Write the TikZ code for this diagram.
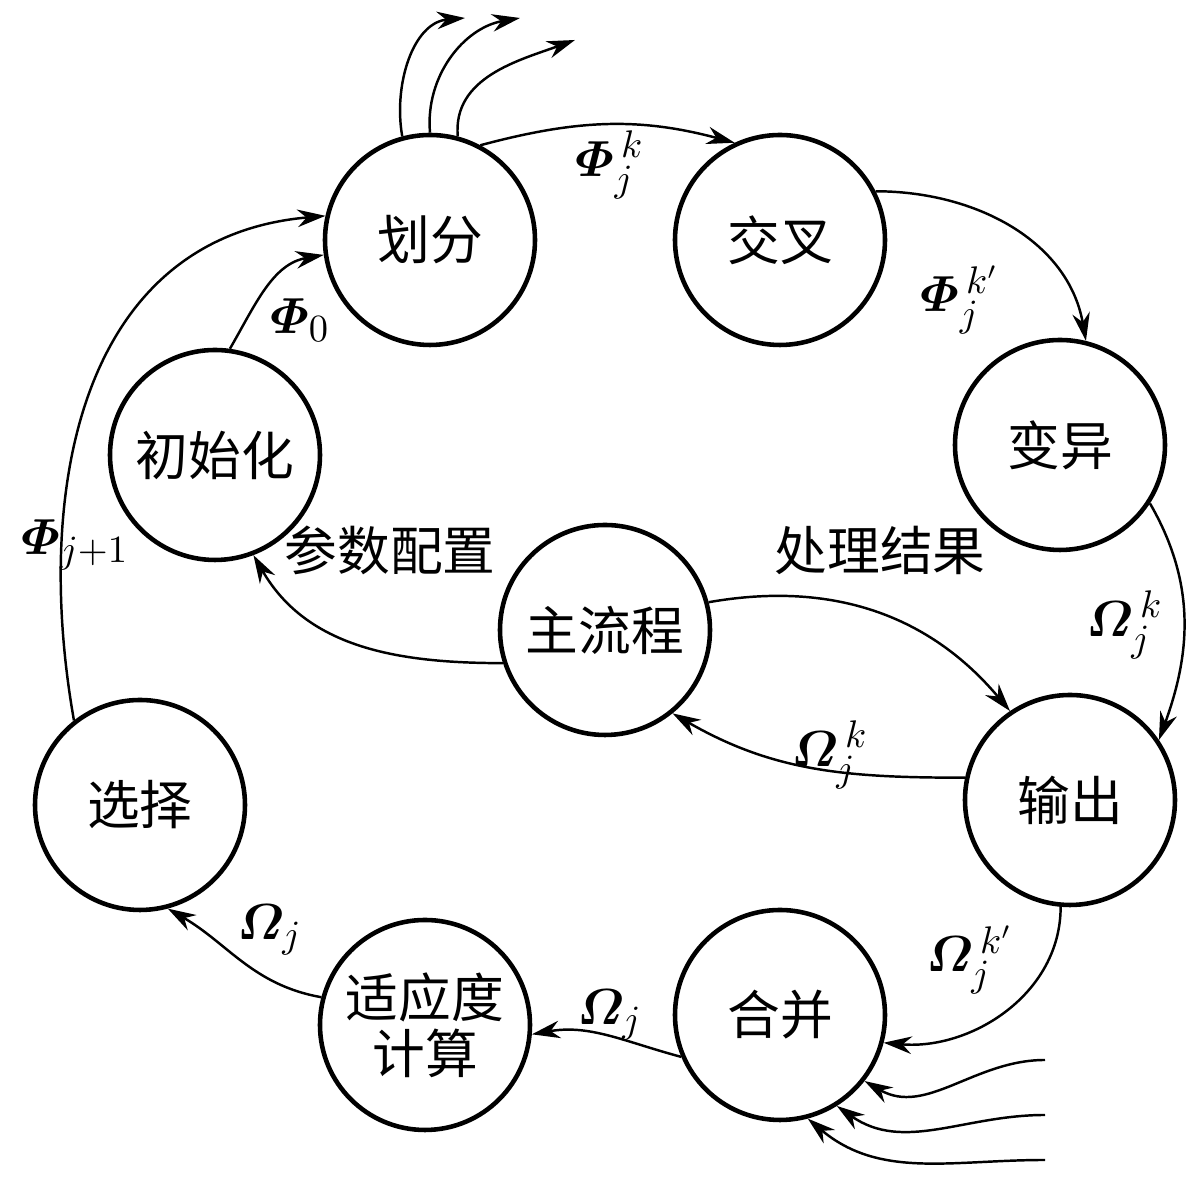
\documentclass[tikz,border=0pt]{standalone}
\usepackage{amsmath,bm}
\usepackage{fontspec}
\newfontfamily\cjk{Noto Sans CJK SC}
\usetikzlibrary{arrows.meta}
\tikzset{
  st/.style={circle,draw,line width=1.3pt,minimum size=2.1cm,inner sep=0pt,font=\cjk\fontsize{15}{18}\selectfont,align=center},
  ar/.style={line width=0.7pt,-{Stealth[length=8pt,width=5pt]}},
  lb/.style={font=\fontsize{15}{18}\selectfont}
}
\begin{document}
\begin{tikzpicture}
\useasboundingbox (0,0) rectangle (12,11.81);
\node[st] (A) at (4.30,9.41) {划分};
\node[st] (B) at (7.80,9.41) {交叉};
\node[st] (C) at (10.60,7.36) {变异};
\node[st] (M) at (6.05,5.51) {主流程};
\node[st] (O) at (10.70,3.81) {输出};
\node[st] (H) at (7.80,1.66) {合并};
\node[st] (F) at (4.25,1.56) {适应度\\[-2pt]计算};
\node[st] (S) at (1.40,3.76) {选择};
\node[st] (I) at (2.15,7.26) {初始化};
\coordinate (u1) at (4.65,11.63);
\coordinate (u2) at (5.20,11.63);
\coordinate (u3) at (5.75,11.41);
\coordinate (d1) at (10.45,1.21);
\coordinate (d2) at (10.45,0.66);
\coordinate (d3) at (10.45,0.21);
\draw[ar] (A.62) to[out=15,in=165] (B.115);
\draw[ar] (B.27) to[out=0,in=100] (C.76);
\draw[ar] (C.-33) to[out=-60,in=70] (O.34);
\draw[ar] (O.-95) to[out=-90,in=-5] (H.-15);
\draw[ar] (H.203) to[out=165,in=10] (F.-5);
\draw[ar] (F.165) to[out=170,in=-30] (S.-75);
\draw[ar] (S.128) to[out=100,in=185,looseness=1.1] (A.167);
\draw[ar] (I.82) to[out=60,in=190] (A.188);
\draw[ar] (M.198) to[out=180,in=-60] (I.-69);
\draw[ar] (M.15) to[out=10,in=130] (O.124);
\draw[ar] (O.168) to[out=180,in=-30] (M.-51);
\draw[ar] (A.105) to[out=100,in=185] (u1);
\draw[ar] (A.90) to[out=95,in=190] (u2);
\draw[ar] (A.75) to[out=95,in=200] (u3);
\draw[ar] (d1) to[out=180,in=-30] (H.-38);
\draw[ar] (d2) to[out=180,in=-35] (H.-58);
\draw[ar] (d3) to[out=180,in=-40] (H.-75);
\node[lb] (l1) at (6.10,10.16) {$\bm{\varPhi}_j^{\,k}$};
\node[lb] (l2) at (9.60,8.81) {$\bm{\varPhi}_j^{\,k'}$};
\node[lb] (l3) at (11.25,5.56) {$\bm{\varOmega}_j^{\,k}$};
\node[lb] (l4) at (9.70,2.21) {$\bm{\varOmega}_j^{\,k'}$};
\node[lb] (l5) at (6.10,1.66) {$\bm{\varOmega}_j$};
\node[lb] (l6) at (2.70,2.51) {$\bm{\varOmega}_j$};
\node[lb] (l7) at (0.75,6.36) {$\bm{\varPhi}_{j+1}$};
\node[lb] (l8) at (3.00,8.61) {$\bm{\varPhi}_0$};
\node[lb] (l9) at (8.30,4.26) {$\bm{\varOmega}_j^{\,k}$};
\node[lb,font=\cjk\fontsize{15}{18}\selectfont] (t1) at (3.90,6.31) {参数配置};
\node[lb,font=\cjk\fontsize{15}{18}\selectfont] (t2) at (8.80,6.31) {处理结果};
\end{tikzpicture}
\end{document}
